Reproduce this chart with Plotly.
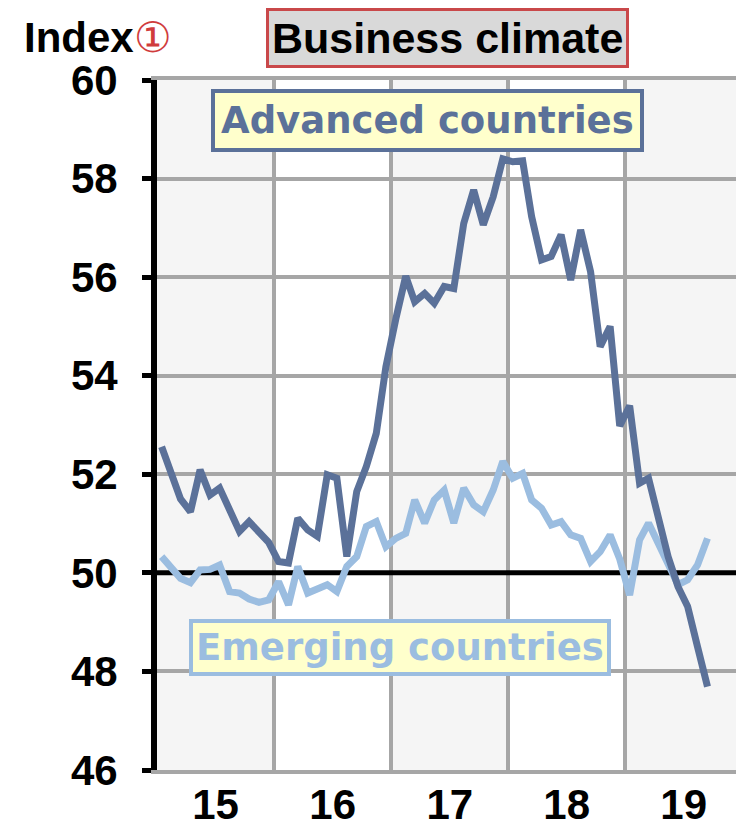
"""
Business climate index: advanced vs emerging countries, monthly 2015-2019.
"""

import pandas as pd
import plotly.graph_objects as go


# ── Data ─────────────────────────────────────────────────────────────────────
FIRST_MONTH = "2015-01-01"

advanced = [
    52.56, 52.00, 51.50, 51.24, 52.09, 51.58, 51.72, 51.28, 50.84, 51.04, 50.84, 50.62,
    50.23, 50.20, 51.11, 50.87, 50.74, 51.99, 51.92, 50.33, 51.65, 52.16, 52.83, 54.18,
    55.15, 56.02, 55.50, 55.67, 55.47, 55.81, 55.77, 57.09, 57.77, 57.06, 57.63, 58.40,
    58.34, 58.36, 57.23, 56.35, 56.42, 56.86, 55.94, 56.96, 56.11, 54.59, 55.00, 52.98,
    53.39, 51.82, 51.92, 51.14, 50.33, 49.72, 49.32, 48.50, 47.69,
]

emerging = [
    50.33, 50.10, 49.89, 49.80, 50.06, 50.07, 50.16, 49.62, 49.59, 49.47, 49.40, 49.45,
    49.82, 49.35, 50.13, 49.59, 49.66, 49.76, 49.62, 50.13, 50.33, 50.94, 51.04, 50.53,
    50.70, 50.80, 51.48, 51.01, 51.48, 51.68, 51.01, 51.72, 51.38, 51.24, 51.68, 52.26,
    51.92, 52.02, 51.48, 51.31, 50.97, 51.04, 50.77, 50.70, 50.23, 50.43, 50.77, 50.28,
    49.55, 50.67, 51.01, 50.60, 50.23, 49.76, 49.86, 50.16, 50.70,
]

years = ["2015", "2016", "2017", "2018", "2019"]
y_ticks = [46, 48, 50, 52, 54, 56, 58, 60]
x_range = ["2014-12-31 12:00", "2019-12-13"]
ref_level = 50

# monthly observations, plotted mid-month
months = pd.date_range(FIRST_MONTH, periods=len(advanced), freq="MS") + pd.Timedelta(days=14)

# ── Styling ──────────────────────────────────────────────────────────────────
_DARK_BLUE = "#5b7199"
_LIGHT_BLUE = "#9bbde0"
_GRID = "#a6a6a6"
_SHADE = "#f5f5f5"
_SANS = "Liberation Sans, Arial, sans-serif"
_WIDE = "DejaVu Sans, Verdana, sans-serif"

fig = go.Figure()

# thick black reference line at 50 (under the series)
fig.add_trace(go.Scatter(
    x=x_range, y=[ref_level, ref_level], mode="lines", hoverinfo="skip",
    line=dict(color="black", width=5),
))
fig.add_trace(go.Scatter(
    x=months, y=emerging, mode="lines", name="Emerging countries",
    line=dict(color=_LIGHT_BLUE, width=7),
))
fig.add_trace(go.Scatter(
    x=months, y=advanced, mode="lines", name="Advanced countries",
    line=dict(color=_DARK_BLUE, width=7),
))

# alternating year columns
for i, yr in enumerate(years):
    if i % 2 == 0:
        fig.add_shape(
            type="rect", xref="x", yref="paper",
            x0=f"{yr}-01-01", x1=f"{int(yr) + 1}-01-01", y0=0, y1=1,
            fillcolor=_SHADE, line_width=0, layer="below",
        )

# title box
fig.add_annotation(
    text="<b>Business climate</b>", xref="paper", yref="paper",
    x=0.501, y=1.061, xanchor="center", yanchor="middle", showarrow=False,
    font=dict(family=_SANS, size=43, color="black"),
    bgcolor="#d9d9d9", bordercolor="#c9484a", borderwidth=3, borderpad=3,
)

# unit label
fig.add_annotation(
    text="<b>Index</b><span style='color:#d03c3c'>①</span>",
    xref="paper", yref="paper", x=-0.233, y=1.062,
    xanchor="left", yanchor="middle", showarrow=False,
    font=dict(family=_SANS, size=42, color="black"),
)

# series labels
fig.add_annotation(
    text="<b>Advanced countries</b>", xref="paper", yref="paper",
    x=0.467, y=0.942, xanchor="center", yanchor="middle", showarrow=False,
    font=dict(family=_WIDE, size=37, color=_DARK_BLUE),
    bgcolor="#ffffcc", bordercolor=_DARK_BLUE, borderwidth=4, borderpad=6,
)
fig.add_annotation(
    text="<b>Emerging countries</b>", xref="paper", yref="paper",
    x=0.420, y=0.178, xanchor="center", yanchor="middle", showarrow=False,
    font=dict(family=_WIDE, size=37, color=_LIGHT_BLUE),
    bgcolor="#ffffcc", bordercolor=_LIGHT_BLUE, borderwidth=4, borderpad=3,
)

fig.update_layout(
    width=736, height=825,
    paper_bgcolor="white", plot_bgcolor="white",
    showlegend=False,
    margin=dict(l=157, r=0, t=80, b=55),
    xaxis=dict(
        type="date", range=x_range, automargin=False,
        tick0="2015-01-01", dtick="M12",
        tickformat="%y", ticklabelmode="period",
        showgrid=True, gridcolor=_GRID, gridwidth=4,
        showline=True, mirror=True, linecolor=_GRID, linewidth=4,
        ticks="", ticklabelstandoff=-5,
        tickfont=dict(family=_SANS, size=42, color="black", weight="bold"),
    ),
    yaxis=dict(
        range=[46, 60], tickvals=y_ticks, automargin=False,
        showgrid=True, gridcolor=_GRID, gridwidth=4, zeroline=False,
        showline=True, linecolor="black", linewidth=6,
        ticks="outside", ticklen=9, tickwidth=5, tickcolor="black",
        ticklabelstandoff=16,
        tickfont=dict(family=_SANS, size=42, color="black", weight="bold"),
    ),
)

# drop the default page margin so the figure fills the window
fig.write_html(
    "out.html",
    config={"displayModeBar": False},
    post_script="document.body.style.margin = '0';",
)
